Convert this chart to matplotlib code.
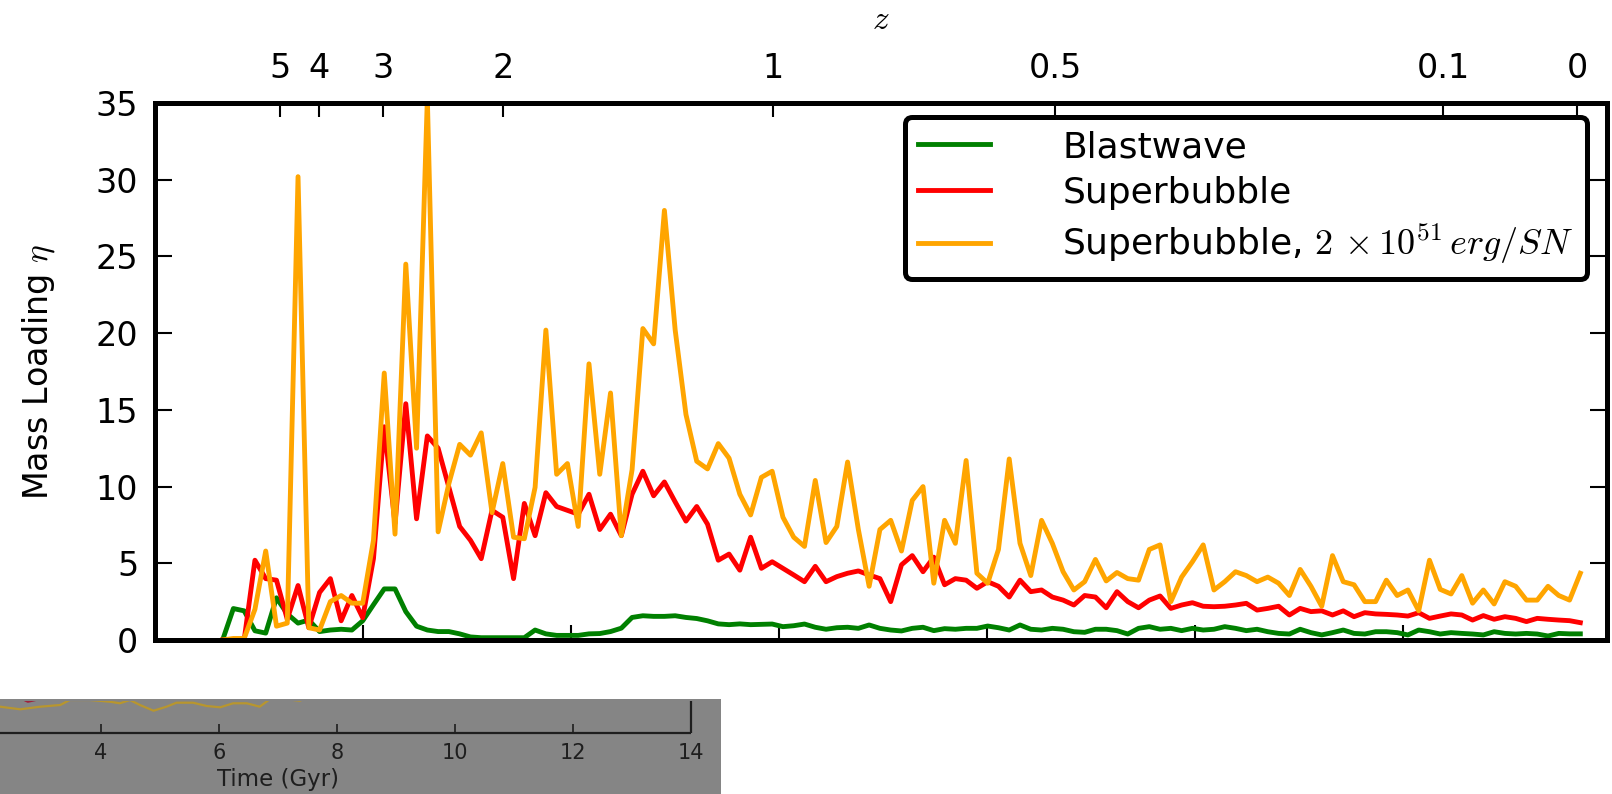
import numpy as np
import matplotlib
matplotlib.use('Agg')
import matplotlib.pyplot as plt
from matplotlib.patches import Rectangle

plt.rcParams['font.family'] = ['DejaVu Sans']
plt.rcParams['mathtext.fontset'] = 'cm'

# ---------------- data ----------------
T_START = 0.65      # Gyr, first simulation output
T_STEP = 0.1036     # Gyr between outputs

blastwave = [
    0.0, 2.05, 1.9, 0.6, 0.45, 2.75, 1.7, 1.1, 1.3, 0.55,
    0.65, 0.7, 0.65, 1.25, 2.3, 3.33, 3.33, 1.85, 0.9, 0.65,
    0.55, 0.55, 0.4, 0.2, 0.15, 0.15, 0.15, 0.15, 0.15, 0.65,
    0.4, 0.3, 0.3, 0.3, 0.4, 0.42, 0.55, 0.77, 1.47, 1.58,
    1.54, 1.54, 1.58, 1.47, 1.4, 1.25, 1.05, 1.0, 1.05, 1.0,
    1.02, 1.04, 0.87, 0.93, 1.04, 0.83, 0.7, 0.8, 0.83, 0.76,
    0.98, 0.76, 0.65, 0.59, 0.76, 0.83, 0.61, 0.74, 0.7, 0.76,
    0.76, 0.91, 0.8, 0.65, 0.98, 0.7, 0.65, 0.76, 0.7, 0.54,
    0.5, 0.7, 0.7, 0.61, 0.39, 0.76, 0.87, 0.7, 0.76, 0.61,
    0.76, 0.65, 0.7, 0.87, 0.76, 0.61, 0.7, 0.54, 0.43, 0.39,
    0.7, 0.48, 0.33, 0.48, 0.65, 0.43, 0.39, 0.54, 0.54, 0.48,
    0.33, 0.65, 0.54, 0.39, 0.48, 0.43, 0.39, 0.33, 0.54, 0.43,
    0.39, 0.43, 0.39, 0.26, 0.43, 0.4, 0.4,
]

superbubble = [
    0.0, 0.0, 0.0, 5.2, 4.0, 3.9, 1.35, 3.55, 0.8, 3.1,
    4.0, 1.25, 2.9, 1.45, 5.3, 13.9, 7.6, 15.4, 7.9, 13.3,
    12.5, 9.95, 7.4, 6.5, 5.3, 8.45, 8.0, 4.0, 8.9, 6.8,
    9.6, 8.7, 8.45, 8.2, 9.5, 7.2, 8.2, 6.8, 9.5, 11.0,
    9.4, 10.3, 9.0, 7.75, 8.7, 7.55, 5.2, 5.6, 4.55, 6.7,
    4.67, 5.1, 4.67, 4.24, 3.8, 4.8, 3.8, 4.13, 4.35, 4.5,
    4.24, 4.0, 2.5, 4.9, 5.5, 4.45, 5.4, 3.6, 4.0, 3.9,
    3.37, 3.8, 3.5, 2.8, 3.9, 3.15, 3.26, 2.8, 2.6, 2.28,
    2.9, 2.8, 2.1, 3.15, 2.5, 2.1, 2.6, 2.87, 2.06, 2.28,
    2.43, 2.2, 2.17, 2.2, 2.28, 2.39, 1.95, 2.06, 2.2, 1.63,
    2.06, 1.85, 1.9, 1.63, 1.9, 1.52, 1.78, 1.7, 1.67, 1.63,
    1.56, 1.78, 1.41, 1.56, 1.7, 1.63, 1.3, 1.59, 1.35, 1.52,
    1.41, 1.2, 1.41, 1.35, 1.3, 1.26, 1.13,
]

superbubble_2e51 = [
    0.0, 0.1, 0.1, 2.0, 5.8, 0.9, 1.1, 30.2, 0.8, 0.65,
    2.5, 2.9, 2.4, 2.4, 6.5, 17.4, 6.9, 24.5, 12.5, 35.3,
    7.05, 10.2, 12.75, 12.05, 13.5, 8.3, 11.5, 6.7, 6.6, 9.95,
    20.2, 10.8, 11.5, 7.4, 18.0, 10.8, 16.1, 6.8, 11.1, 20.3,
    19.3, 28.0, 20.2, 14.7, 11.65, 11.15, 12.8, 11.85, 9.5, 8.15,
    10.6, 11.0, 8.0, 6.7, 6.1, 10.4, 6.35, 7.4, 11.6, 7.2,
    3.5, 7.2, 7.8, 5.8, 9.1, 10.0, 3.7, 7.8, 6.3, 11.7,
    4.35, 3.7, 5.9, 11.8, 6.3, 4.2, 7.8, 6.3, 4.45, 3.26,
    3.8, 5.25, 3.85, 4.4, 4.0, 3.9, 5.9, 6.2, 2.5, 4.1,
    5.1, 6.2, 3.26, 3.8, 4.45, 4.2, 3.8, 4.1, 3.7, 2.9,
    4.6, 3.5, 2.2, 5.5, 3.8, 3.6, 2.5, 2.5, 3.9, 2.9,
    3.26, 1.9, 5.2, 3.3, 3.0, 4.2, 2.4, 3.26, 2.35, 3.8,
    3.5, 2.6, 2.6, 3.5, 2.9, 2.6, 4.35,
]

time_gyr = T_START + T_STEP * np.arange(len(blastwave))

series_labels = ['Blastwave', 'Superbubble',
                 r'Superbubble, $2\,\times 10^{51}\,erg/SN$']
series_colors = ['green', 'red', 'orange']

y_ticks = [0, 5, 10, 15, 20, 25, 30, 35]
time_ticks = [0, 2, 4, 6, 8, 10, 12]

z_ticks = [5, 4, 3, 2, 1, 0.5, 0.1, 0]
z_labels = ['5', '4', '3', '2', '1', '0.5', '0.1', '0']
H0 = 71.0
OMEGA_M = 0.27

# overlapping strip of another panel (bottom-left of the picture)
inset_time = [2.2, 2.29, 2.63, 2.97, 3.31, 3.47, 3.81, 4.15, 4.32, 4.49,
              4.66, 4.89, 5.11, 5.28, 5.56, 5.79, 6.02, 6.24, 6.47, 6.69,
              6.86, 7.15, 7.37, 7.6]
inset_orange = [2.7, 2.63, 2.37, 2.63, 2.8, 3.3, 3.3, 3.13, 2.97, 3.3,
                2.8, 2.23, 2.63, 3.03, 3.03, 2.7, 2.57, 2.97, 2.97, 2.63,
                3.37, 3.37, 3.23, 3.8]
inset_red_time = [2.5, 2.59, 2.76, 2.93, 3.0]
inset_red = [3.9, 3.6, 3.13, 3.35, 3.8]
inset_ticks = [4, 6, 8, 10, 12, 14]


def age_gyr(z):
    ol = 1.0 - OMEGA_M
    hubble_time = 977.8 / H0
    return (2.0 / (3.0 * np.sqrt(ol)) * hubble_time *
            np.arcsinh(np.sqrt(ol / OMEGA_M) * (1.0 + np.asarray(z)) ** -1.5))


# ---------------- figure ----------------
W, H = 1612, 794
fig = plt.figure(figsize=(W / 100, H / 100), dpi=100)
fig.patch.set_facecolor('white')

L, R, T, B = 155, 1607, 103, 640
ax = fig.add_axes([L / W, (H - B) / H, (R - L) / W, (B - T) / H])

for vals, lab, col in zip([blastwave, superbubble, superbubble_2e51],
                          series_labels, series_colors):
    ax.plot(time_gyr, vals, color=col, lw=3.5, label=lab)

ax.set_xlim(0, 13.96)
ax.set_ylim(0, 35)
ax.set_yticks(y_ticks)
ax.set_xticks(time_ticks)
ax.tick_params(axis='y', which='both', direction='in', length=12, width=1.5,
               left=True, right=True, labelsize=24, pad=12)
ax.tick_params(axis='x', direction='in', length=11, width=1.5,
               top=False, bottom=True, labelbottom=False)
ax.set_ylabel(r'Mass Loading $\eta$', fontsize=24)
ax.yaxis.set_label_coords(-0.0675, 0.5)

ax2 = ax.twiny()
ax2.set_xlim(ax.get_xlim())
ax2.set_xticks(age_gyr(z_ticks))
ax2.set_xticklabels(z_labels)
ax2.tick_params(axis='x', direction='in', length=10, width=1.5,
                labelsize=24, pad=13)
ax2.set_xlabel('$z$', fontsize=24)
ax2.xaxis.set_label_coords(0.5, 1.138)

for a in (ax, ax2):
    for sp in a.spines.values():
        sp.set_linewidth(3.6)

leg = ax.legend(loc='upper right', bbox_to_anchor=((1587 - L) / (R - L),
                                                    (B - 117) / (B - T)),
                borderaxespad=0, fontsize=26, handlelength=2.0,
                handletextpad=2.0, labelspacing=0.33, borderpad=0.36,
                fancybox=True, framealpha=1)
leg.get_frame().set_edgecolor('black')
leg.get_frame().set_linewidth(3.6)
for ln in leg.get_lines():
    ln.set_linewidth(3.5)

# ---------------- grey strip of the other panel ----------------
fig.patches.append(Rectangle((0, 0), 721 / W, (H - 699) / H,
                             transform=fig.transFigure, facecolor='#858585',
                             edgecolor='none', zorder=-1))
ink = '#1e1e1e'
ax_in = fig.add_axes([-135 / W, (H - 733) / H, (691 + 135) / W, (733 - 701) / H])
ax_in.set_zorder(5)
ax_in.set_facecolor('none')
ax_in.plot(inset_time, inset_orange, color='#b8962e', lw=1.6)
ax_in.plot(inset_red_time, inset_red, color='#a0203a', lw=1.6)
ax_in.set_xlim(0, 14)
ax_in.set_ylim(0, 3.2)
ax_in.set_xticks(inset_ticks)
ax_in.set_yticks([])
ax_in.tick_params(axis='x', direction='in', length=6.5, width=1.2,
                  labelsize=15, pad=7, colors=ink)
for side in ('top', 'left'):
    ax_in.spines[side].set_visible(False)
for side in ('bottom', 'right'):
    ax_in.spines[side].set_linewidth(1.6)
    ax_in.spines[side].set_color(ink)
    ax_in.spines[side].set_capstyle('butt')
ax_in.set_xlabel('Time (Gyr)', fontsize=16.5, color=ink, labelpad=4)

fig.savefig('out.png', dpi=100)
